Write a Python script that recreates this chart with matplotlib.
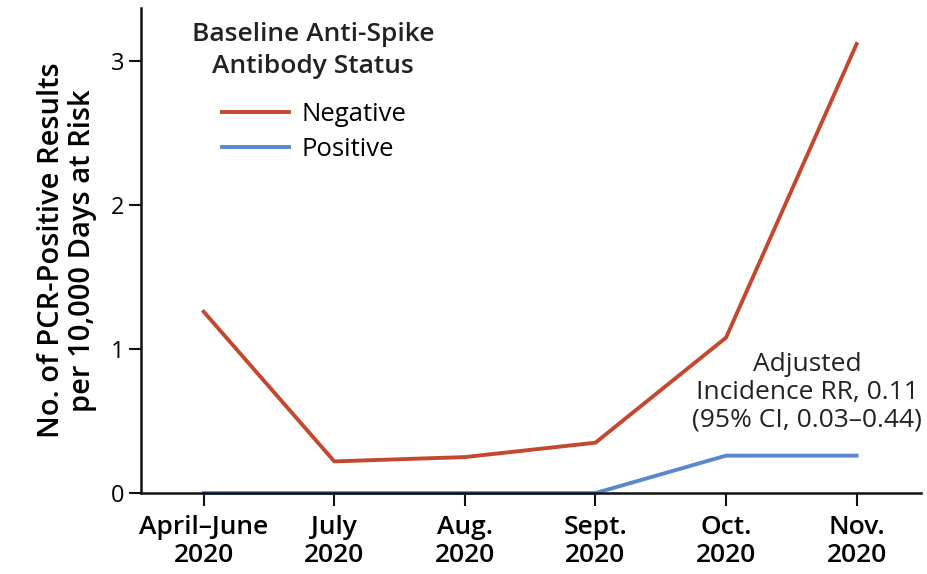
import numpy as np
import matplotlib.pyplot as plt

months = ["April\u2013June\n2020", "July\n2020", "Aug.\n2020", "Sept.\n2020", "Oct.\n2020", "Nov.\n2020"]
negative = [1.26, 0.22, 0.25, 0.35, 1.08, 3.12]
positive = [0.0, 0.0, 0.0, 0.0, 0.26, 0.26]

plt.rcParams['font.family'] = ['Open Sans', 'DejaVu Sans']
red = '#c3482f'
blue = '#5b88cc'

fig = plt.figure(figsize=(9.28, 5.74), dpi=100)
ax = fig.add_axes([0.152, 0.141, 0.840, 0.845])
x = np.arange(len(months))
ax.plot(x, negative, c=red, lw=2.8, label='Negative')
ax.plot(x, positive, c=blue, lw=2.8, label='Positive', clip_on=False)

ax.set_xlim(-0.48, 5.49)
ax.set_ylim(0, 3.37)
ax.set_xticks(x)
ax.set_xticklabels(months, fontsize=19, fontweight='semibold', linespacing=1.12)
ax.set_yticks([0, 1, 2, 3])
ax.tick_params(axis='both', direction='out', length=9, width=1.5, color='#111111')
ax.tick_params(axis='y', labelsize=17, pad=3)
ax.tick_params(axis='x', pad=7)
for s in ['top', 'right']:
    ax.spines[s].set_visible(False)
for s in ['left', 'bottom']:
    ax.spines[s].set_linewidth(1.8)
    ax.spines[s].set_color('#111111')

ax.set_ylabel("No. of PCR-Positive Results\nper 10,000 Days at Risk", fontsize=21,
              fontweight='semibold', linespacing=1.1, labelpad=10)

# legend title drawn separately so the gap to the entries can be set
ax.text(0.2205, 0.972, "Baseline Anti-Spike\nAntibody Status", transform=ax.transAxes,
        ha='center', va='top', fontsize=19, fontweight='semibold', linespacing=1.38,
        color='#222222')
leg = ax.legend(loc='upper left', bbox_to_anchor=(0.104, 0.806), frameon=False,
                fontsize=18.5, borderaxespad=0, borderpad=0,
                handlelength=2.6, handletextpad=0.5, labelspacing=0.38)

ax.text(4.62, 0.42, "Adjusted\nIncidence RR, 0.11\n(95% CI, 0.03\u20130.44)",
        ha='center', va='bottom', fontsize=19, linespacing=1.15, color='#222222')

fig.savefig('out.png', dpi=100)
